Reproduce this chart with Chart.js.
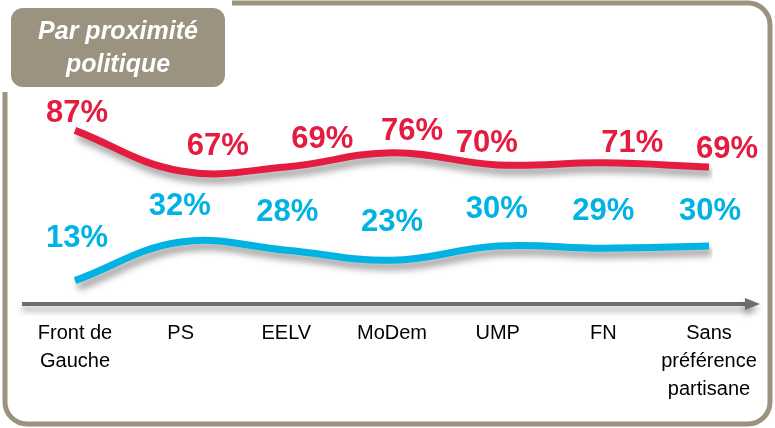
<!DOCTYPE html>
<html>
<head>
<meta charset="utf-8">
<script src="https://cdn.jsdelivr.net/npm/chart.js@4/dist/chart.umd.min.js"></script>
<style>
  html, body { margin: 0; padding: 0; background: #fff; }
  #wrap { width: 775px; height: 428px; position: relative; }
</style>
</head>
<body>
<div id="wrap"><canvas id="c" width="775" height="428"></canvas></div>
<script>
// ---- data ----
const categories = [['Front de', 'Gauche'], 'PS', 'EELV', 'MoDem', 'UMP', 'FN', ['Sans', 'préférence', 'partisane']];
const seriesRed = [87, 67, 69, 76, 70, 71, 69];
const seriesBlue = [13, 32, 28, 23, 30, 29, 30];
const titleLines = ['Par proximité', 'politique'];

// label offsets relative to each point (pixels)
const redLabelDx = [2, 37, 36, 20, -11, 29, 18];
const redLabelDy = [-17, -25, -27, -21, -21, -19, -17];
const blueLabelDx = [2, -1, 1, 0, -1, 0, 1];
const blueLabelDy = [-42, -36, -38, -38, -37, -37, -35];

const RED = '#e31c40';
const BLUE = '#00b3e3';
const TAUPE = '#9c9280';

const decor = {
  id: 'decor',
  beforeDraw(chart) {
    const ctx = chart.ctx;
    ctx.save();
    ctx.fillStyle = '#fff';
    ctx.fillRect(0, 0, chart.width, chart.height);
    // frame
    ctx.strokeStyle = TAUPE;
    ctx.lineWidth = 5;
    ctx.beginPath();
    ctx.roundRect(5, 3, 765, 421, 22);
    ctx.stroke();
    // white gap around title box
    ctx.fillStyle = '#fff';
    ctx.fillRect(0, 0, 232, 92);
    // title box
    ctx.fillStyle = TAUPE;
    ctx.beginPath();
    ctx.roundRect(11, 8, 214, 79, 12);
    ctx.fill();
    ctx.fillStyle = '#fff';
    ctx.font = 'italic bold 25px "Liberation Sans", Arial, sans-serif';
    ctx.textAlign = 'center';
    ctx.textBaseline = 'middle';
    ctx.fillText(titleLines[0], 118, 32);
    ctx.fillText(titleLines[1], 118, 65);
    // axis arrow
    ctx.save();
    ctx.shadowColor = 'rgba(0,0,0,0.35)';
    ctx.shadowBlur = 6;
    ctx.shadowOffsetY = 5;
    ctx.strokeStyle = '#6d6d6d';
    ctx.fillStyle = '#6d6d6d';
    ctx.lineWidth = 4;
    ctx.beginPath();
    ctx.moveTo(22, 304);
    ctx.lineTo(748, 304);
    ctx.stroke();
    ctx.beginPath();
    ctx.moveTo(745, 298);
    ctx.lineTo(760, 304);
    ctx.lineTo(745, 310);
    ctx.closePath();
    ctx.fill();
    ctx.restore();
    ctx.restore();
  },
  beforeDatasetsDraw(chart) {
    const ctx = chart.ctx;
    ctx.save();
    ctx.shadowColor = 'rgba(0,0,0,0.4)';
    ctx.shadowBlur = 7;
    ctx.shadowOffsetX = 3;
    ctx.shadowOffsetY = 6;
  },
  afterDatasetsDraw(chart) {
    const ctx = chart.ctx;
    ctx.restore();
    ctx.save();
    ctx.font = 'bold 31px "Liberation Sans", Arial, sans-serif';
    ctx.textAlign = 'center';
    ctx.textBaseline = 'middle';
    const sets = [
      { i: 0, dx: redLabelDx, dy: redLabelDy, color: RED },
      { i: 1, dx: blueLabelDx, dy: blueLabelDy, color: BLUE }
    ];
    sets.forEach(s => {
      const meta = chart.getDatasetMeta(s.i);
      const data = chart.data.datasets[s.i].data;
      ctx.fillStyle = s.color;
      meta.data.forEach((pt, k) => {
        ctx.fillText(data[k] + '%', pt.x + s.dx[k], pt.y + s.dy[k]);
      });
    });
    ctx.restore();
  }
};

new Chart(document.getElementById('c'), {
  type: 'line',
  data: {
    labels: categories,
    datasets: [
      { data: seriesRed, borderColor: RED, borderWidth: 7, pointRadius: 0, tension: 0.4, borderCapStyle: 'butt', fill: false },
      { data: seriesBlue, borderColor: BLUE, borderWidth: 7, pointRadius: 0, tension: 0.4, borderCapStyle: 'butt', fill: false }
    ]
  },
  options: {
    responsive: false,
    animation: false,
    events: [],
    layout: { padding: { left: 75, right: 66, top: 104, bottom: 0 } },
    plugins: { legend: { display: false }, tooltip: { enabled: false }, title: { display: false } },
    scales: {
      y: { display: false, min: 0, max: 100 },
      x: {
        display: true,
        offset: false,
        grid: { display: false, drawTicks: false },
        border: { display: false },
        ticks: {
          autoSkip: false, maxRotation: 0, minRotation: 0, padding: 12,
          color: '#000',
          font: { family: '"Liberation Sans", Arial, sans-serif', size: 20, lineHeight: 1.4 }
        },
        afterFit(scale) { scale.height = 121; }
      }
    }
  },
  plugins: [decor]
});
</script>
</body>
</html>
